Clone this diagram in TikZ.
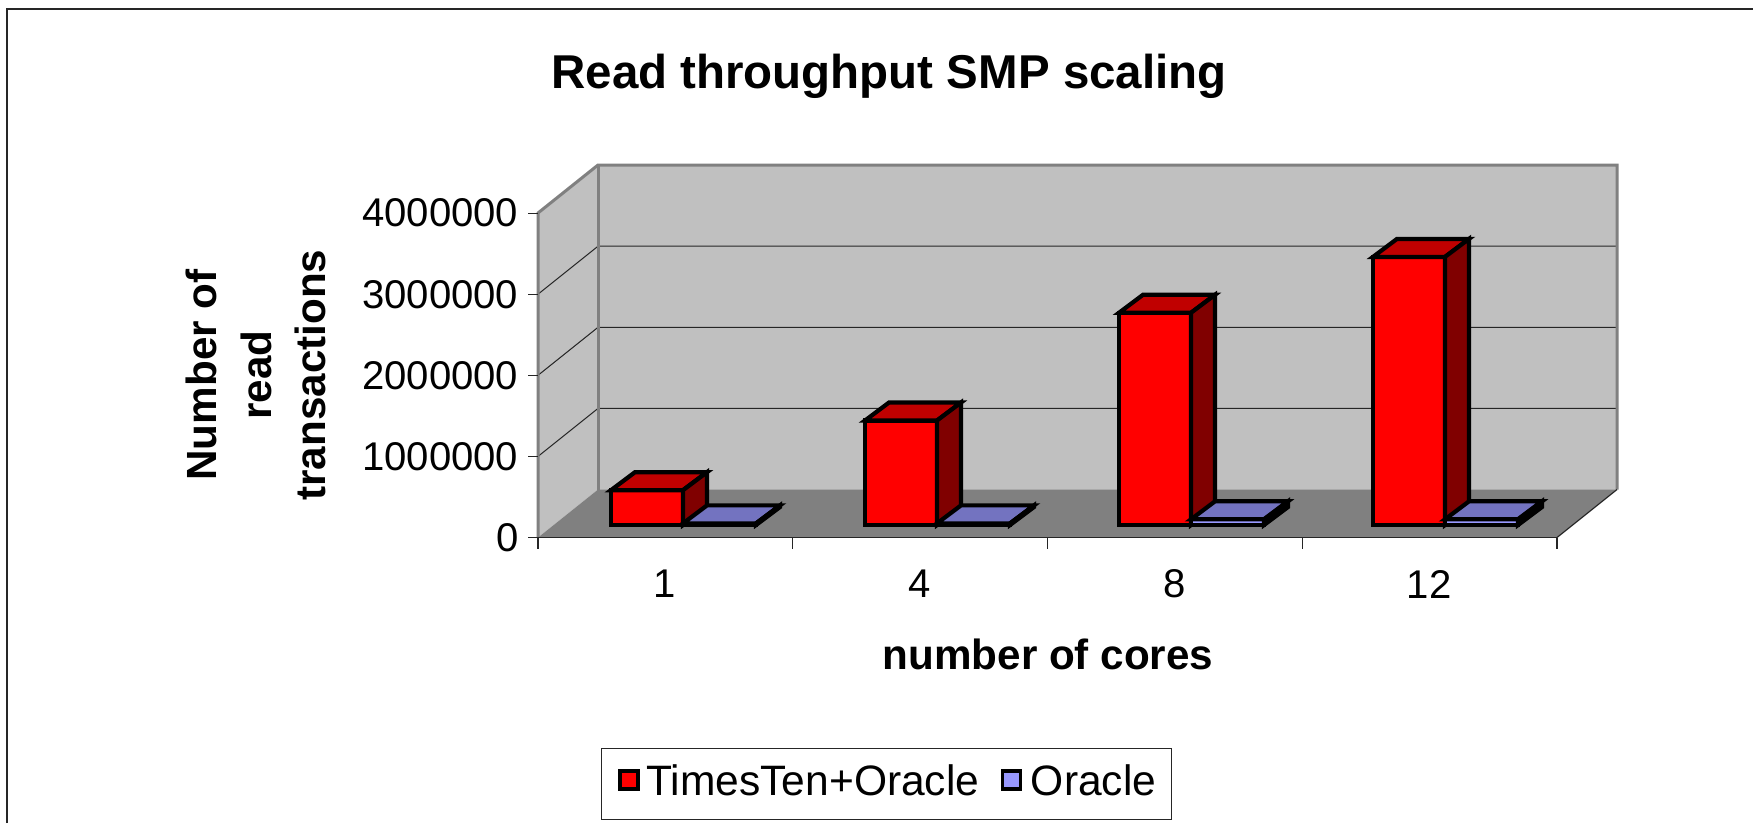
\documentclass[tikz,border=0pt]{standalone}
\usepackage{fontspec}
\setmainfont{Liberation Sans}
\usepackage{tikz}
\usetikzlibrary{positioning}
\definecolor{wallgray}{RGB}{192,192,192}
\definecolor{floorgray}{RGB}{128,128,128}
\definecolor{edgegray}{RGB}{128,128,128}
\definecolor{ttfront}{RGB}{255,0,0}
\definecolor{tttop}{RGB}{192,0,0}
\definecolor{ttside}{RGB}{128,0,0}
\definecolor{orfront}{RGB}{153,153,255}
\definecolor{ortop}{RGB}{115,115,192}
\definecolor{orside}{RGB}{77,77,128}
\newcommand{\drawbox}[6]{%
  \filldraw[barline,fill=#4] (#1,525) rectangle (#1+#2,525-81*#3);
  \filldraw[barline,fill=#5] (#1,525-81*#3) -- ++(24,-18) -- ++(#2,0) -- ++(-24,18) -- cycle;
  \filldraw[barline,fill=#6] (#1+#2,525-81*#3) -- ++(24,-18) -- ++(0,81*#3) -- ++(-24,18) -- cycle;
}
\begin{document}
\begin{tikzpicture}[x=0.01cm,y=-0.01cm,
  wall/.style={fill=wallgray},
  walledge/.style={draw=edgegray,line width=0.03cm},
  gridline/.style={draw=black!85,line width=0.01cm},
  barline/.style={draw=black,line width=0.042cm},
  axisline/.style={draw=black!85,line width=0.012cm},
  ticklabel/.style={inner sep=0pt,font=\fontsize{11.4}{13.7}\selectfont},
  axistitle/.style={inner sep=0pt,align=center,font=\fontsize{12}{15.6}\selectfont\bfseries},
  keybox/.style={draw=black,line width=0.9pt,inner sep=0pt,minimum size=0.18cm},
  legtext/.style={inner sep=0pt,font=\fontsize{12.1}{14.5}\selectfont}]
\useasboundingbox (0,0) rectangle (1753,823);
\draw[line width=0.02cm,black!85] (7,823) -- (7,9) -- (1753,9);
\node[inner sep=0pt,anchor=base,font=\fontsize{13.5}{16}\selectfont\bfseries] (title) at (889,88) {Read throughput SMP scaling};
\fill[wall] (538,537.5) -- (538,213) -- (598,165) -- (598,489.5) -- cycle;
\fill[wall] (598,165) rectangle (1617,489.5);
\fill[floorgray] (538,537.5) -- (598,489.5) -- (1617,489.5) -- (1557,537.5) -- cycle;
\foreach \i in {1,2,3}
  \draw[gridline] (538,537.5-81.1*\i) -- ++(60,-48) -- ++(1019,0);
\draw[walledge] (538,537.5) -- (538,213) -- (598,165) -- (1617,165) -- (1617,489.5);
\draw[walledge] (598,165) -- (598,489.5);
\draw[axisline] (1557,537.5) -- (1617,489.5);
\draw[axisline] (538,537.5) -- (1557,537.5);
\foreach \i in {0,...,4}
  \draw[axisline] (538+254.75*\i,537.5) -- ++(0,11);
\foreach \i/\v in {0/0,1/1000000,2/2000000,3/3000000,4/4000000} {
  \draw[axisline] (528,537.5-81.1*\i) -- (538,537.5-81.1*\i);
  \node[ticklabel,anchor=east] (ylab\i) at (519,537.5-81.1*\i) {\v};
}
\foreach \i/\c in {0/1,1/4,2/8,3/12}
  \node[ticklabel] (xlab\i) at (665+254.75*\i,584) {\c};
\foreach \i/\vtt/\vor in {0/0.43/0.02,1/1.29/0.02,2/2.62/0.07,3/3.31/0.07} {
  \drawbox{611+254*\i}{72}{\vtt}{ttfront}{tttop}{ttside}
  \drawbox{683+254*\i}{73}{\vor}{orfront}{ortop}{orside}
}
\node[axistitle,rotate=90] (ytitle) at (256,375) {Number of\\read\\transactions};
\node[axistitle] (xtitle) at (1048,654) {number of cores};
\draw[line width=0.01cm,black!85] (601,748) rectangle (1171,819);
\node[keybox,fill=ttfront] (keytt) at (629,780) {};
\node[legtext,right=0.06cm of keytt] (legtt) {TimesTen+Oracle};
\node[keybox,fill=orfront,right=0.21cm of legtt] (keyor) {};
\node[legtext,right=0.08cm of keyor] (legor) {Oracle};
\end{tikzpicture}
\end{document}
